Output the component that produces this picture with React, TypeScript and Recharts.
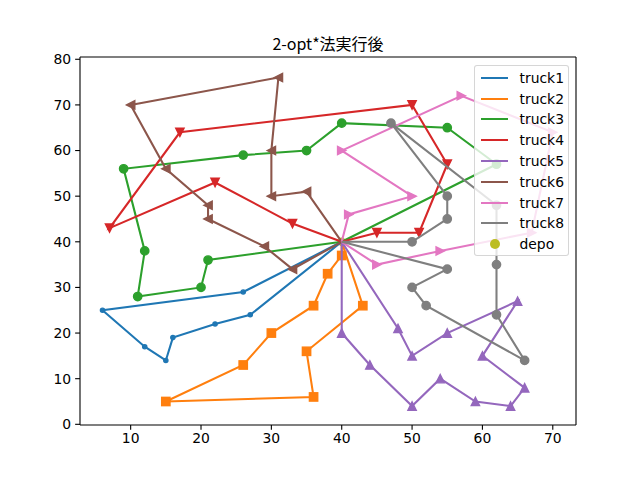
import React from "react";
import { ScatterChart, Scatter, XAxis, YAxis, ReferenceLine } from "recharts";

type P = [number, number];

const depotPoint: P = [40, 40];
const truck1: P[] = [[26, 29], [6, 25], [12, 17], [15, 14], [16, 19], [22, 22], [27, 24]];
const truck2: P[] = [[40, 37], [38, 33], [36, 26], [30, 20], [26, 13], [15, 5], [36, 6], [35, 16], [43, 26]];
const truck3: P[] = [[62, 57], [55, 65], [40, 66], [35, 60], [26, 59], [9, 56], [12, 38], [11, 28], [20, 30], [21, 36]];
const truck4: P[] = [[45, 42], [51, 42], [55, 57], [50, 70], [17, 64], [7, 43], [22, 53], [33, 44]];
const truck5: P[] = [[40, 20], [44, 13], [50, 4], [54, 10], [59, 5], [64, 4], [66, 8], [60, 15], [65, 27], [55, 20], [50, 15], [48, 21]];
const truck6: P[] = [[33, 34], [29, 39], [21, 45], [21, 48], [15, 56], [10, 70], [31, 76], [30, 60], [30, 50], [35, 51]];
const truck7: P[] = [[41, 46], [50, 50], [40, 60], [57, 72], [70, 64], [67, 42], [54, 38], [45, 35]];
const truck8: P[] = [[50, 40], [55, 45], [55, 50], [47, 66], [62, 48], [62, 35], [62, 24], [66, 14], [52, 26], [50, 30], [55, 34]];

const seriesNames = ["truck1", "truck2", "truck3", "truck4", "truck5", "truck6", "truck7", "truck8"];
const seriesColors = ["#1f77b4", "#ff7f0e", "#2ca02c", "#d62728", "#9467bd", "#8c564b", "#e377c2", "#7f7f7f"];
const seriesMarkers = ["point", "square", "circle", "tridown", "triup", "trileft", "triright", "circle"];
const depotColor = "#bcbd22";

const xTicks = [10, 20, 30, 40, 50, 60, 70];
const yTicks = [0, 10, 20, 30, 40, 50, 60, 70, 80];
const xDomain: [number, number] = [2.8, 73.3];
const yDomain: [number, number] = [-0.15, 80.5];

const routes = [truck1, truck2, truck3, truck4, truck5, truck6, truck7, truck8];

const toData = (pts: P[]) => [
  { x: depotPoint[0], y: depotPoint[1], depot: true },
  ...pts.map(([x, y]) => ({ x, y, depot: false })),
  { x: depotPoint[0], y: depotPoint[1], depot: true },
];

const MS = 8.33 / 2;

function makeShape(kind: string, color: string) {
  return (props: any) => {
    const { cx, cy, payload } = props;
    if (payload && payload.depot) return <g />;
    const common = { fill: color, stroke: color, strokeWidth: 1.39 };
    const h = MS;
    switch (kind) {
      case "point":
        return <circle cx={cx} cy={cy} r={2.1} {...common} />;
      case "square":
        return <rect x={cx - h} y={cy - h} width={2 * h} height={2 * h} {...common} />;
      case "circle":
        return <circle cx={cx} cy={cy} r={h} {...common} />;
      case "triup":
        return <polygon points={`${cx},${cy - h} ${cx - h},${cy + h} ${cx + h},${cy + h}`} {...common} />;
      case "tridown":
        return <polygon points={`${cx},${cy + h} ${cx - h},${cy - h} ${cx + h},${cy - h}`} {...common} />;
      case "trileft":
        return <polygon points={`${cx - h},${cy} ${cx + h},${cy - h} ${cx + h},${cy + h}`} {...common} />;
      case "triright":
        return <polygon points={`${cx + h},${cy} ${cx - h},${cy - h} ${cx - h},${cy + h}`} {...common} />;
      default:
        return <circle cx={cx} cy={cy} r={h} {...common} />;
    }
  };
}

const depotShape = (props: any) => (
  <circle cx={props.cx} cy={props.cy} r={3.5} fill={depotColor} stroke={depotColor} strokeWidth={1.39} />
);

const tickStyle = { fontFamily: "DejaVu Sans", fontSize: 13.9, fill: "#000" };

export default function App() {
  const legendTop = 65;
  const legendLeft = 474;
  const rowH = 20.8;
  const firstC = 11.7;
  const items = [...seriesNames, "depo"];
  return (
    <div style={{ position: "absolute", left: 0, top: 0, width: 640, height: 478, background: "#fff" }}>
      <ScatterChart
        width={640}
        height={478}
        margin={{ top: 57, right: 64, bottom: 23, left: 40 }}
      >
        <XAxis
          type="number"
          dataKey="x"
          domain={xDomain}
          ticks={xTicks}
          allowDataOverflow
          height={30}
          tickSize={4.86}
          tickMargin={3}
          tick={tickStyle}
          axisLine={{ stroke: "#000", strokeWidth: 1.1 }}
          tickLine={{ stroke: "#000", strokeWidth: 1.1 }}
          interval={0}
        />
        <YAxis
          type="number"
          dataKey="y"
          domain={yDomain}
          ticks={yTicks}
          allowDataOverflow
          width={40}
          tickSize={4.86}
          tickMargin={4}
          tick={tickStyle}
          axisLine={{ stroke: "#000", strokeWidth: 1.1 }}
          tickLine={{ stroke: "#000", strokeWidth: 1.1 }}
          interval={0}
        />
        <Scatter
          data={[{ x: depotPoint[0], y: depotPoint[1] }]}
          shape={depotShape}
          isAnimationActive={false}
          fill={depotColor}
        />
        {routes.map((r, i) => (
          <Scatter
            key={seriesNames[i]}
            name={seriesNames[i]}
            data={toData(r)}
            fill={seriesColors[i]}
            line={{ stroke: seriesColors[i], strokeWidth: 2.08 }}
            lineType="joint"
            shape={makeShape(seriesMarkers[i], seriesColors[i])}
            isAnimationActive={false}
          />
        ))}
        <ReferenceLine y={yDomain[1]} stroke="#000" strokeWidth={1.1} ifOverflow="extendDomain" />
        <ReferenceLine x={xDomain[1]} stroke="#000" strokeWidth={1.1} ifOverflow="extendDomain" />
      </ScatterChart>
      <div
        style={{
          position: "absolute",
          left: 80,
          width: 496,
          top: 32,
          height: 22,
          lineHeight: "22px",
          textAlign: "center",
          fontFamily: "'Noto Sans CJK JP'",
          fontSize: 16,
          color: "#000",
        }}
      >
        2-opt*法実行後
      </div>
      <div
        style={{
          position: "absolute",
          left: legendLeft,
          top: legendTop,
          width: 95,
          height: 191,
          boxSizing: "border-box",
          background: "rgba(255,255,255,0.8)",
          border: "1px solid rgba(204,204,204,0.8)",
          borderRadius: 3,
        }}
      >
        {items.map((name, i) => {
          const c = firstC + rowH * i;
          const isDepo = name === "depo";
          return (
            <div key={name} style={{ position: "absolute", left: 0, top: c - 10, height: 20, width: 95 }}>
              {isDepo ? (
                <div
                  style={{
                    position: "absolute",
                    left: 19.5 - 5,
                    top: 5,
                    width: 10,
                    height: 10,
                    borderRadius: 5,
                    background: depotColor,
                  }}
                />
              ) : (
                <div
                  style={{
                    position: "absolute",
                    left: 5.6,
                    top: 9,
                    width: 27.8,
                    height: 2.08,
                    background: seriesColors[i],
                  }}
                />
              )}
              <div
                style={{
                  position: "absolute",
                  left: 44.5,
                  top: 0,
                  height: 20,
                  lineHeight: "20px",
                  fontFamily: "DejaVu Sans",
                  fontSize: 13.9,
                  color: "#000",
                  whiteSpace: "nowrap",
                }}
              >
                {name}
              </div>
            </div>
          );
        })}
      </div>
    </div>
  );
}
